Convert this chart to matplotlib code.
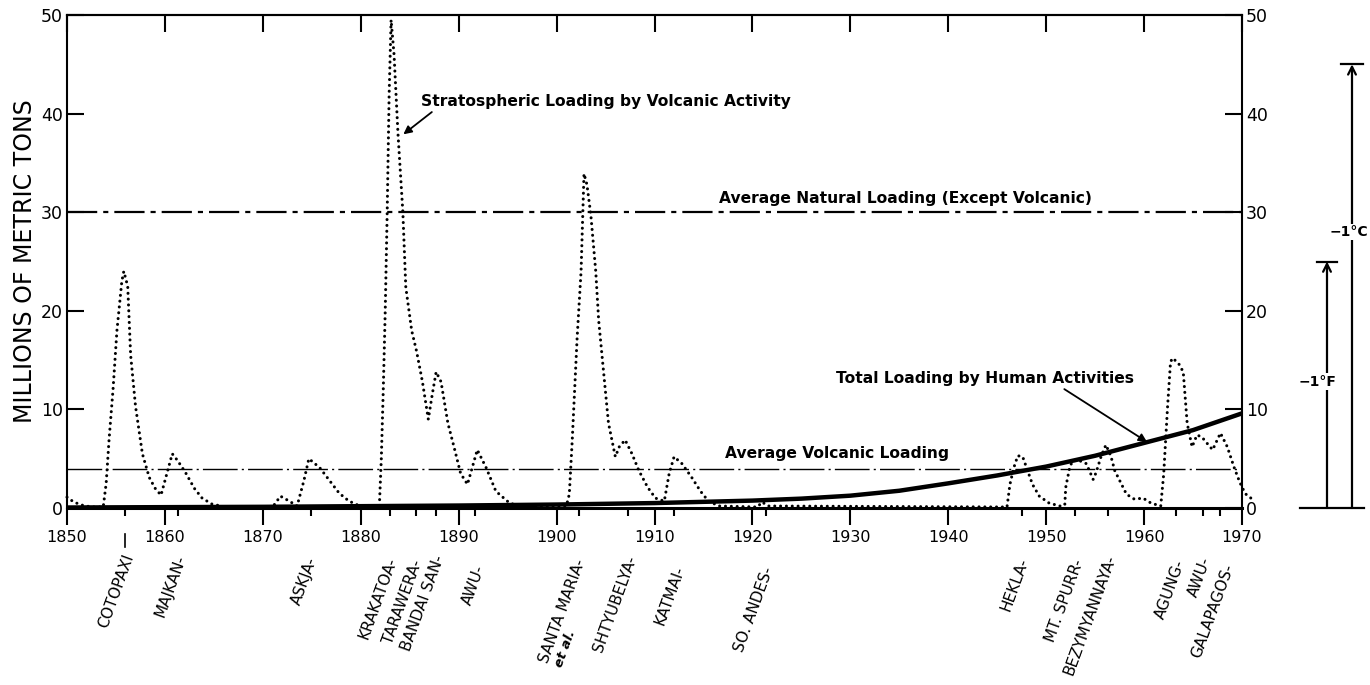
import matplotlib
matplotlib.use("Agg")
import matplotlib.pyplot as plt
from matplotlib.ticker import FixedLocator, NullFormatter

# ---------------- data ----------------
volc_years = [1850.0, 1850.7, 1851.5, 1852.5, 1853.7, 1854.0, 1854.3, 1854.7, 1855.1, 1855.6,
              1855.8, 1856.2, 1856.5, 1857.0, 1857.7, 1858.4, 1859.0, 1859.6, 1860.2, 1860.75,
              1861.3, 1862.1, 1863.0, 1863.8, 1864.8, 1866.2, 1871.0, 1871.8, 1872.7, 1873.5,
              1874.2, 1874.7, 1875.8, 1876.8, 1877.8, 1878.8, 1879.9, 1881.9, 1882.1, 1882.3,
              1882.5, 1882.7, 1882.9, 1883.1, 1883.4, 1883.8, 1884.3, 1884.6, 1885.2, 1885.7,
              1886.3, 1886.9, 1887.3, 1887.7, 1888.2, 1888.9, 1889.6, 1890.2, 1890.9, 1891.9,
              1892.8, 1893.8, 1895.2, 1896.2, 1901.0, 1901.3, 1901.6, 1902.1, 1902.5, 1902.8,
              1903.1, 1903.5, 1904.0, 1904.3, 1904.8, 1905.3, 1906.0, 1906.4, 1907.0, 1907.7,
              1908.4, 1909.3, 1910.1, 1911.0, 1911.5, 1912.0, 1912.8, 1913.8, 1914.7, 1915.5,
              1916.6, 1920.5, 1921.0, 1921.6, 1946.0, 1946.3, 1946.7, 1947.1, 1947.6, 1948.1,
              1948.6, 1949.3, 1950.3, 1951.4, 1951.9, 1952.0, 1952.4, 1952.7, 1953.4, 1954.1,
              1954.8, 1955.1, 1955.6, 1956.1, 1956.6, 1957.0, 1957.5, 1958.2, 1959.0, 1959.9,
              1960.7, 1961.7, 1962.0, 1962.4, 1962.7, 1962.9, 1963.5, 1964.0, 1964.4, 1964.9,
              1965.4, 1965.9, 1966.4, 1967.0, 1967.8, 1968.5, 1969.2, 1969.7, 1970.0, 1970.4,
              1971.3]
volc_values = [1.1, 0.6, 0.3, 0.1, 0.1, 2.5, 7.0, 12.0, 18.0, 23.0,
               24.0, 22.5, 15.5, 10.3, 5.5, 3.1, 2.0, 1.3, 3.5, 5.5,
               4.8, 3.6, 2.0, 1.0, 0.4, 0.1, 0.1, 1.2, 0.7, 0.2,
               2.8, 5.0, 4.1, 2.8, 1.5, 0.7, 0.2, 0.2, 5.0, 12.0,
               20.0, 30.0, 42.0, 49.5, 46.0, 38.0, 30.0, 22.4, 18.0, 15.9,
               12.8, 9.0, 11.5, 13.8, 12.8, 8.6, 5.9, 3.5, 2.4, 5.9,
               4.1, 1.7, 0.5, 0.2, 0.2, 1.4, 6.9, 17.3, 24.0, 33.9,
               32.8, 29.7, 24.0, 19.0, 13.8, 8.6, 5.2, 6.2, 6.9, 5.5,
               3.8, 2.1, 1.0, 0.7, 3.5, 5.2, 4.5, 3.1, 1.7, 0.7,
               0.2, 0.1, 0.6, 0.2, 0.1, 2.4, 4.1, 5.3, 5.2, 3.8,
               2.4, 1.2, 0.5, 0.2, 0.3, 2.1, 4.1, 4.8, 4.8, 4.5,
               2.9, 3.6, 5.2, 6.4, 5.3, 3.8, 2.8, 1.4, 0.9, 1.0,
               0.5, 0.2, 3.4, 10.3, 14.8, 15.2, 14.7, 13.8, 8.6, 6.2,
               7.4, 7.2, 6.6, 5.9, 7.6, 6.2, 4.1, 2.8, 2.1, 1.4,
               0.7]

human_years = [1850, 1870, 1890, 1900, 1910, 1920, 1925, 1930, 1935, 1940,
               1945, 1950, 1955, 1960, 1965, 1970]
human_values = [0.05, 0.12, 0.25, 0.35, 0.5, 0.75, 0.95, 1.25, 1.75, 2.5,
                3.3, 4.2, 5.3, 6.6, 7.9, 9.6]

natural_avg = 30.0
volcanic_avg = 4.0

decade_ticks = list(range(1850, 1971, 10))
y_ticks = [0, 10, 20, 30, 40, 50]

eruption_years = [1855.9, 1861.3, 1874.9, 1883.0, 1885.6, 1887.7, 1891.7, 1902.3, 1907.3,
                  1912.0, 1921.4, 1947.5, 1952.9, 1956.3, 1963.3, 1966.0, 1967.8]
eruption_names = ["COTOPAXI", "MAJKAN-", "ASKJA-", "KRAKATOA-", "TARAWERA-", "BANDAI SAN-",
                  "AWU-", "SANTA MARIA-", "SHTYUBELYA-", "KATMAI-", "SO. ANDES-", "HEKLA-",
                  "MT. SPURR-", "BEZYMYANNAYA-", "AGUNG-", "AWU-", "GALAPAGOS-"]

cooling_c_level = 45.0   # -1 deg C equivalent loading
cooling_f_level = 25.0   # -1 deg F equivalent loading

# ---------------- layout (pixels) ----------------
label_drop = [47, 47, 50, 50, 52, 48, 58, 52, 48, 58, 60, 50, 52, 47, 52, 50, 56]
label_dx = [5, 4, 2, 3, 2, 4, 5, 2, 4, 6, 3, 3, 5, 4, 4, 4, 9]

plt.rcParams["font.family"] = ["DejaVu Sans"]

W, H = 1370, 685
fig = plt.figure(figsize=(W / 100, H / 100), dpi=100)
L, R, T, B = 67, 1242, 15, 508
ax = fig.add_axes([L / W, 1 - B / H, (R - L) / W, (B - T) / H])
AX_H = B - T

ax.set_xlim(1850, 1970)
ax.set_ylim(0, 50)

# horizontal reference levels
ax.axhline(natural_avg, color="black", lw=1.6, ls=(0, (13.6, 2.7, 2.3, 2.7)))
ax.axhline(volcanic_avg, color="black", lw=1.0, ls=(0, (25, 3, 1.5, 3)))

# human loading curve
ax.plot(human_years, human_values, color="black", lw=3.2, solid_capstyle="butt", zorder=4)

# volcanic loading dotted curve
ax.plot(volc_years, volc_values, color="black", lw=2.2, ls=(0, (0.01, 1.9)),
        dash_capstyle="round", clip_on=False, zorder=5)

# spines
for s in ax.spines.values():
    s.set_linewidth(1.5)
ax.spines["bottom"].set_linewidth(2.2)

# y ticks
ax.set_yticks(y_ticks)
ax.set_yticklabels([str(v) for v in y_ticks])
ax.tick_params(axis="y", which="major", direction="in", length=12, width=1.5,
               left=True, right=True, labelleft=True, labelright=True,
               labelsize=12.5, pad=3)

# x ticks: bottom decades outward, eruptions minor outward
ax.set_xticks(decade_ticks)
ax.set_xticklabels([str(v) for v in decade_ticks])
ax.xaxis.set_minor_locator(FixedLocator(eruption_years))
ax.xaxis.set_minor_formatter(NullFormatter())
ax.tick_params(axis="x", which="major", direction="out", length=12, width=1.5,
               top=False, labelsize=11.5, pad=4)
ax.tick_params(axis="x", which="minor", direction="out", length=5.5, width=1.5, top=False)

# top decade ticks pointing inward
sec = ax.secondary_xaxis("top")
sec.set_xticks(decade_ticks)
sec.tick_params(direction="in", length=12, width=1.5, labeltop=False)
sec.spines["top"].set_linewidth(1.5)

ax.set_ylabel("MILLIONS OF METRIC TONS", fontsize=17, labelpad=3)

# eruption labels
xtrans = ax.get_xaxis_transform()
for yr, name, drop, dx in zip(eruption_years, eruption_names, label_drop, label_dx):
    ax.annotate(name, xy=(yr, 0), xycoords=("data", "axes fraction"),
                xytext=(dx, -drop), textcoords="offset pixels",
                rotation=70, rotation_mode="anchor", ha="right", va="center",
                fontsize=11)
    if name == "COTOPAXI":
        ax.plot([yr, yr], [-26 / AX_H, -39 / AX_H], transform=xtrans, color="black",
                lw=1.2, clip_on=False)
    if name.startswith("SANTA MARIA"):
        ax.annotate("et al.", xy=(yr, 0), xycoords=("data", "axes fraction"),
                    xytext=(dx - 9, -drop - 71), textcoords="offset pixels",
                    rotation=70, rotation_mode="anchor", ha="right", va="center",
                    fontsize=9.5, style="italic", fontweight="bold")

# annotations
bold = dict(fontsize=11.2, fontweight="bold", ha="center", va="center")
ax.annotate("Stratospheric Loading by Volcanic Activity", xy=(1884.35, 37.9),
            xytext=(1905.0, 41.2), arrowprops=dict(arrowstyle="-|>", lw=1.3, color="black",
            mutation_scale=12, shrinkA=0, shrinkB=0, relpos=(0.04, 0.0)), **bold)
ax.text(1935.6, 31.4, "Average Natural Loading (Except Volcanic)", **bold)
ax.annotate("Total Loading by Human Activities", xy=(1960.3, 6.7),
            xytext=(1943.8, 13.1), arrowprops=dict(arrowstyle="-|>", lw=1.3, color="black",
            mutation_scale=12, shrinkA=0, shrinkB=0, relpos=(0.75, 0.0)), **bold)
ax.text(1928.6, 5.5, "Average Volcanic Loading", **bold)

# temperature-equivalent scale on the right
tx0, tx1 = 1290, 1370
ax2 = fig.add_axes([tx0 / W, 1 - B / H, (tx1 - tx0) / W, (B - T) / H])
ax2.set_xlim(0, 1)
ax2.set_ylim(0, 50)
ax2.axis("off")
xc, xf = 0.775, 0.4625
ax2.plot([0.125, 0.925], [0, 0], color="black", lw=1.6, clip_on=False)
ax2.annotate("", xy=(xc, cooling_c_level), xytext=(xc, 0),
             arrowprops=dict(arrowstyle="->", lw=1.6, color="black", mutation_scale=14,
                             shrinkA=0, shrinkB=0))
ax2.annotate("", xy=(xf, cooling_f_level), xytext=(xf, 0),
             arrowprops=dict(arrowstyle="->", lw=1.6, color="black", mutation_scale=14,
                             shrinkA=0, shrinkB=0))
ax2.plot([xc - 0.14, xc + 0.14], [cooling_c_level, cooling_c_level], color="black", lw=1.6)
ax2.plot([xf - 0.125, xf + 0.125], [cooling_f_level, cooling_f_level], color="black", lw=1.6)
ax2.text(0.73, 28.0, "\u22121\u00b0C", ha="center", va="center", fontsize=10,
         fontweight="bold", bbox=dict(facecolor="white", edgecolor="none", pad=1.0))
ax2.text(0.34, 12.8, "\u22121\u00b0F", ha="center", va="center", fontsize=10,
         fontweight="bold", bbox=dict(facecolor="white", edgecolor="none", pad=1.0))

fig.savefig("out.png", dpi=100, facecolor="white")
